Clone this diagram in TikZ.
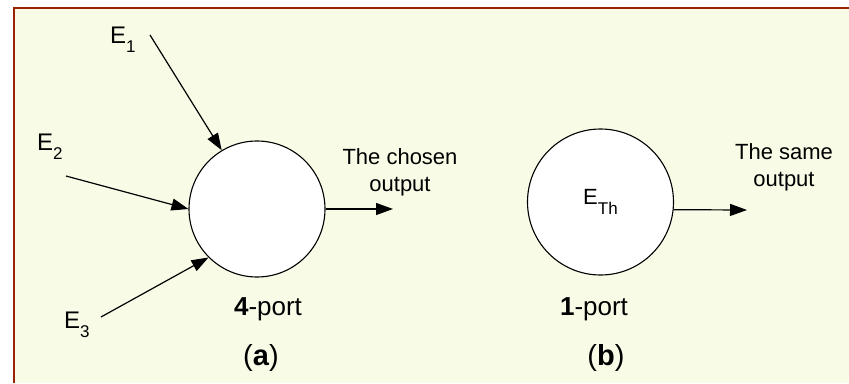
\documentclass[tikz,border=0pt]{standalone}
\usepackage{fontspec}
\setmainfont{Liberation Sans}
\usetikzlibrary{arrows.meta}
\definecolor{bgc}{RGB}{248,252,230}
\definecolor{frc}{RGB}{154,34,0}
\newcommand{\subl}[1]{\raisebox{-9.5pt}{\fontsize{17}{17}\selectfont #1}}
\tikzset{
  port/.style={circle,draw=black,line width=1.1pt,fill=white,inner sep=0pt},
  lab/.style={inner sep=0pt,font=\fontsize{22}{27}\selectfont},
  elab/.style={inner sep=0pt,font=\fontsize{24}{27}\selectfont},
  plab/.style={inner sep=0pt,font=\fontsize{26}{30}\selectfont},
  clab/.style={inner sep=0pt,font=\fontsize{29}{32}\selectfont},
  arr/.style={line width=1.2pt,-{Triangle[length=17pt,width=12pt]}}
}
\begin{document}
\begin{tikzpicture}[x=1pt,y=-1pt]
\useasboundingbox (0,0) rectangle (849,383);
\fill[white] (0,0) rectangle (849,383);
\fill[bgc] (14,8) rectangle (849,383);
\draw[frc,line width=2.2pt] (14,383) -- (14,8) -- (849,8);
% circles
\node[port,minimum size=136pt] (A) at (257,209) {};
\node[port,minimum size=146pt,lab] (B) at (600.5,202) {E\subl{Th}};
% labels
\node[elab,anchor=base west] (e1) at (110,43) {E\subl{1}};
\node[elab,anchor=base west] (e2) at (37,150) {E\subl{2}};
\node[elab,anchor=base west] (e3) at (64,328) {E\subl{3}};
\node[lab,align=center] (outa) at (400,172) {The chosen\\output};
\node[lab,align=center] (outb) at (784,167) {The same\\output};
\node[plab,anchor=base] (pa) at (268,315) {\textbf{4}-port};
\node[plab,anchor=base] (pb) at (594,315) {\textbf{1}-port};
\node[clab,anchor=base] (ca) at (261,365) {(\textbf{a})};
\node[clab,anchor=base] (cb) at (606,365) {(\textbf{b})};
% arrow ends
\coordinate (t1) at (150,35);
\coordinate (t2) at (66,176);
\coordinate (t3) at (101,317);
\coordinate (o1) at (393,209);
\coordinate (o2) at (747,210);
\draw[arr] (t1) -- (A.121);
\draw[arr] (t2) -- (A.180);
\draw[arr] (t3) -- (A.225);
\draw[arr] (A.east) -- (o1);
\draw[arr] (B.-6) -- (o2);
\end{tikzpicture}
\end{document}
